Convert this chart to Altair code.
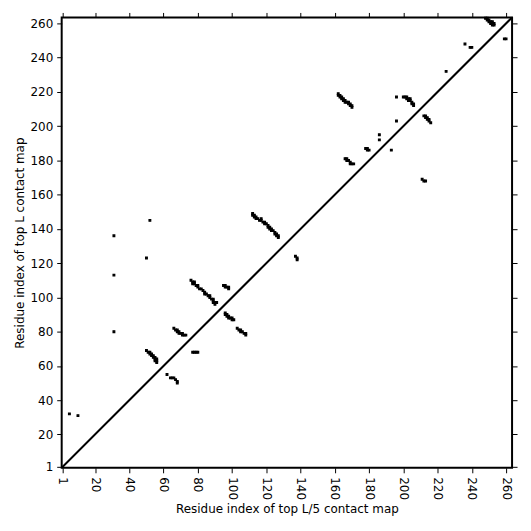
import altair as alt
import pandas as pd

# Contact cells (residue i on x, residue j on y)
upper_x = [5, 10, 31, 31, 31, 50, 52,
           50, 51, 52, 52, 53, 53, 54, 54, 55, 55, 56, 55, 56, 56,
           66, 67, 68, 68, 69, 69, 70, 71, 71, 72, 73,
           76, 77, 77, 78, 78, 79, 80, 80, 81, 82, 83, 84, 84, 85, 86, 87, 87, 88, 89, 89, 90, 90, 91, 89,
           95, 96, 96, 97, 98, 98,
           112, 112, 113, 113, 114, 114, 115, 116, 117, 117, 118, 119, 119, 120, 121, 121, 122, 122, 123, 123, 124, 125, 125, 126, 126, 127, 127,
           162, 162, 163, 163, 164, 164, 165, 165, 166, 166, 167, 168, 168, 169, 169, 170, 170,
           166, 167, 167, 168, 169, 169, 170, 171,
           178, 179, 179, 180,
           186, 186, 196, 196,
           200, 201, 202, 202, 203, 203, 204, 204, 205, 205, 206, 206,
           225, 236, 239, 240,
           248, 249, 249, 250, 250, 251, 251, 252, 252, 253, 253, 252]
upper_y = [32, 31, 136, 113, 80, 123, 145,
           69, 68, 68, 67, 67, 66, 66, 65, 65, 64, 64, 63, 63, 62,
           82, 81, 81, 80, 80, 79, 79, 79, 78, 78, 78,
           110, 109, 108, 109, 108, 107, 107, 106, 105, 105, 104, 103, 102, 102, 101, 101, 100, 99, 99, 98, 97, 96, 97, 97,
           107, 107, 106, 106, 106, 105,
           149, 148, 148, 147, 147, 146, 146, 145, 146, 145, 144, 144, 143, 143, 142, 141, 141, 140, 140, 139, 139, 138, 137, 137, 136, 136, 135,
           219, 218, 218, 217, 217, 216, 216, 215, 215, 214, 214, 214, 213, 213, 212, 212, 211,
           181, 181, 180, 180, 179, 178, 178, 178,
           187, 187, 186, 186,
           195, 192, 217, 203,
           217, 217, 217, 216, 216, 215, 216, 215, 214, 213, 213, 212,
           232, 248, 246, 246,
           263, 263, 262, 262, 261, 261, 260, 260, 259, 259, 260, 261]

lower_x = [62, 64, 65, 66, 67, 68, 68,
           77, 78, 79, 80,
           96, 96, 97, 97, 98, 98, 99, 100, 100, 101,
           103, 104, 105, 105, 106, 107, 108, 108,
           137, 138, 138,
           193,
           212, 213, 213, 214, 214, 215, 215, 216,
           211, 212, 213,
           259, 260]
lower_y = [55, 53, 53, 53, 52, 51, 50,
           68, 68, 68, 68,
           91, 90, 90, 89, 89, 88, 88, 88, 87, 87,
           82, 81, 81, 80, 80, 79, 79, 78,
           124, 123, 122,
           186,
           206, 206, 205, 205, 204, 204, 203, 202,
           169, 168, 168,
           251, 251]

ticks = [1, 20, 40, 60, 80, 100, 120, 140, 160, 180, 200, 220, 240, 260]
domain = [0.5, 263.5]

cells = pd.DataFrame({"i": upper_x + lower_x, "j": upper_y + lower_y})
diag = pd.DataFrame({"a": domain, "b": domain})

FONT = "DejaVu Sans"

xs = alt.Scale(domain=domain, nice=False, zero=False)
ys = alt.Scale(domain=domain, nice=False, zero=False)

rects = alt.Chart(cells).transform_calculate(
    x0="datum.i - 0.5", x1="datum.i + 0.5", y0="datum.j - 0.5", y1="datum.j + 0.5"
).mark_rect(color="black", stroke="black", strokeWidth=1.2).encode(
    x=alt.X("x0:Q", scale=xs,
            axis=alt.Axis(values=ticks, orient="bottom", labelAngle=90,
                          title="Residue index of top L/5 contact map")),
    x2="x1:Q",
    y=alt.Y("y0:Q", scale=ys,
            axis=alt.Axis(values=ticks, orient="left",
                          title="Residue index of top L contact map")),
    y2="y1:Q",
)

line = alt.Chart(diag).mark_line(color="black", strokeWidth=2).encode(
    x=alt.X("a:Q", scale=xs,
            axis=alt.Axis(values=ticks, orient="top", labels=False, title=None)),
    y=alt.Y("b:Q", scale=ys,
            axis=alt.Axis(values=ticks, orient="right", labels=False, title=None)),
)

chart = alt.layer(rects, line).resolve_axis(
    x="independent", y="independent"
).properties(
    width=453, height=453,
    padding={"left": 5, "top": 2, "right": 5, "bottom": 5},
).configure_view(
    stroke="black", strokeWidth=2
).configure_axis(
    domain=False, grid=False, tickColor="black", tickSize=5, tickWidth=1,
    labelFont=FONT, labelFontSize=12, labelColor="black", labelPadding=4,
    titleFont=FONT, titleFontSize=12, titleFontWeight="normal", titleColor="black",
    titlePadding=4,
)

chart.save("out.html", embed_options={"renderer": "svg", "actions": False})
